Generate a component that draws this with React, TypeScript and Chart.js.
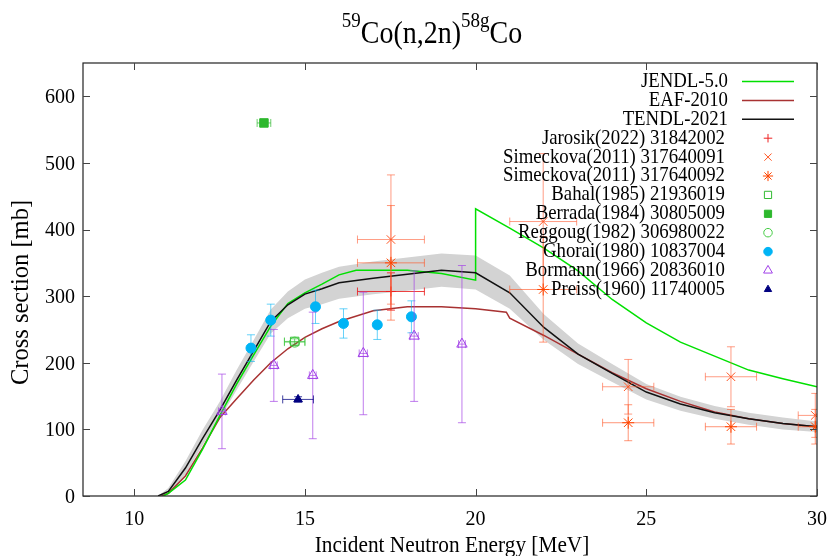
import React, { useEffect, useRef } from "react";
import { Chart, registerables } from "chart.js";
Chart.register(...registerables);

const FONT = '"Liberation Serif", "Times New Roman", Times, serif';
const SY = 1.1;

// ---------- axes ----------
const xTickValues = [10, 15, 20, 25, 30];
const yTickValues = [0, 100, 200, 300, 400, 500, 600];
const xMin = 8.5;
const xMax = 30;
const yMin = 0;
const yMax = 650;
const titleParts = [
  { t: "59", sup: true },
  { t: "Co(n,2n)", sup: false },
  { t: "58g", sup: true },
  { t: "Co", sup: false },
];
const xAxisTitle = "Incident Neutron Energy [MeV]";
const yAxisTitle = "Cross section [mb]";

// ---------- evaluated curves ----------
const tendlE = [10.7, 11.0, 11.5, 12.0, 12.5, 13.0, 13.5, 14.0, 14.5, 15.0, 15.5, 16.0, 17.0, 18.0, 19.0, 20.0, 21.0, 22.0, 23.0, 24.0, 25.0, 26.0, 27.0, 28.0, 29.0, 30.0];
const tendlXS = [0, 7, 42, 86, 128, 174, 218, 262, 287, 303, 311, 320, 327, 333, 339, 335, 305, 253, 213, 184, 156, 138, 125, 116, 109, 104];
const bandUpperXS = [0, 12, 52, 99, 141, 189, 234, 280, 307, 325, 335, 344, 352, 358, 364, 361, 331, 273, 229, 198, 168, 149, 135, 125, 118, 112];
const bandLowerXS = [0, 3, 32, 76, 115, 159, 202, 244, 267, 281, 288, 296, 303, 308, 314, 310, 281, 234, 198, 171, 145, 128, 116, 107, 100, 96];

const jendlE = [10.85, 11.0, 11.5, 12.0, 12.5, 13.0, 13.5, 14.0, 14.5, 15.0, 15.5, 16.0, 16.5, 17.0, 18.0, 19.0, 20.0, 20.0, 21.0, 22.0, 23.0, 24.0, 25.0, 26.0, 27.0, 28.0, 29.0, 30.0];
const jendlXS = [0, 4, 24, 70, 120, 168, 212, 255, 289, 305, 318, 332, 339, 339, 339, 334, 324, 431, 402, 372, 338, 295, 260, 231, 210, 189, 176, 164];

const eafE = [10.8, 11.0, 11.5, 12.0, 12.5, 13.0, 13.5, 14.0, 14.5, 15.0, 15.5, 16.0, 17.0, 18.0, 19.0, 20.0, 20.9, 21.0, 22.0, 23.0, 24.0, 25.0, 26.0, 27.0, 28.0, 29.0, 30.0];
const eafXS = [0, 4, 30, 72, 117, 146, 174, 200, 221, 238, 251, 262, 278, 284, 284, 281, 276, 267, 241, 213, 185, 161, 142, 126, 116, 109, 104];

// ---------- experimental data ----------
const jarosikE = [17.52];
const jarosikXS = [307];
const jarosikDE = [0.98];
const jarosikDXS = [28];

const sim1E = [17.52, 21.98, 24.47, 27.48, 29.95];
const sim1XS = [385, 412, 164, 179, 121];
const sim1DE = [0.98, 0.98, 0.75, 0.75, 0.5];
const sim1DXS = [97, 102, 41, 45, 33];

const sim2E = [17.52, 21.98, 24.47, 27.48, 29.95];
const sim2XS = [350, 310, 110, 104, 104];
const sim2DE = [0.98, 0.98, 0.75, 0.75, 0.5];
const sim2DXS = [86, 79, 27, 26, 26];

const bahalE = [14.7];
const bahalXS = [232];
const bahalDE = [0.3];
const bahalDXS = [4];

const berradaE = [13.8];
const berradaXS = [560];
const berradaDE = [0.2];
const berradaDXS = [3];

const reggougE = [14.7];
const reggougXS = [231];
const reggougDE = [0.3];
const reggougDXS = [0];

const ghoraiE = [13.42, 14.0, 15.31, 16.13, 17.12, 18.12];
const ghoraiXS = [222, 264, 284, 259, 257, 269];
const ghoraiDE = [0, 0, 0, 0, 0, 0];
const ghoraiDXS = [20, 24, 25, 22, 22, 24];

const bormannE = [12.57, 14.09, 15.23, 16.71, 18.2, 19.6];
const bormannXS = [127, 196, 181, 214, 240, 228];
const bormannDE = [0.1, 0.1, 0.1, 0.12, 0.12, 0.1];
const bormannDXS = [56, 54, 95, 92, 98, 118];

const preissE = [14.8];
const preissXS = [145];
const preissDE = [0.45];
const preissDXS = [4];

const toPts = (xs: number[], ys: number[]) => xs.map((x, i) => ({ x, y: ys[i] }));

type Exp = {
  label: string;
  E: number[];
  XS: number[];
  dE: number[];
  dXS: number[];
  style: string;
  r: number;
  stroke: string;
  fill: string;
  bar: string;
};

const experiments: Exp[] = [
  { label: "Jarosik(2022) 31842002", E: jarosikE, XS: jarosikXS, dE: jarosikDE, dXS: jarosikDXS, style: "cross", r: 5, stroke: "#ee2222", fill: "#ee2222", bar: "rgba(235,30,30,0.85)" },
  { label: "Simeckova(2011) 317640091", E: sim1E, XS: sim1XS, dE: sim1DE, dXS: sim1DXS, style: "crossRot", r: 6, stroke: "#ff5522", fill: "#ff5522", bar: "rgba(255,90,50,0.6)" },
  { label: "Simeckova(2011) 317640092", E: sim2E, XS: sim2XS, dE: sim2DE, dXS: sim2DXS, style: "star", r: 6, stroke: "#ff4500", fill: "#ff4500", bar: "rgba(255,80,30,0.6)" },
  { label: "Bahal(1985) 21936019", E: bahalE, XS: bahalXS, dE: bahalDE, dXS: bahalDXS, style: "rect", r: 6, stroke: "#33bb33", fill: "rgba(0,0,0,0)", bar: "rgba(51,187,51,0.7)" },
  { label: "Berrada(1984) 30805009", E: berradaE, XS: berradaXS, dE: berradaDE, dXS: berradaDXS, style: "rect", r: 6, stroke: "#2db82d", fill: "#2db82d", bar: "rgba(45,184,45,0.7)" },
  { label: "Reggoug(1982) 306980022", E: reggougE, XS: reggougXS, dE: reggougDE, dXS: reggougDXS, style: "circle", r: 5, stroke: "#44cc44", fill: "rgba(0,0,0,0)", bar: "rgba(68,204,68,0.7)" },
  { label: "Ghorai(1980) 10837004", E: ghoraiE, XS: ghoraiXS, dE: ghoraiDE, dXS: ghoraiDXS, style: "circle", r: 5, stroke: "#00b4f5", fill: "#00b4f5", bar: "rgba(0,180,245,0.6)" },
  { label: "Bormann(1966) 20836010", E: bormannE, XS: bormannXS, dE: bormannDE, dXS: bormannDXS, style: "triangle", r: 6, stroke: "#a040e8", fill: "rgba(0,0,0,0)", bar: "rgba(165,70,230,0.7)" },
  { label: "Preiss(1960) 11740005", E: preissE, XS: preissXS, dE: preissDE, dXS: preissDXS, style: "triangle", r: 5, stroke: "#000080", fill: "#000080", bar: "rgba(0,0,128,0.75)" },
];

const curves = [
  { label: "JENDL-5.0", color: "#00e000" },
  { label: "EAF-2010", color: "#a83232" },
  { label: "TENDL-2021", color: "#111111" },
];

function drawText(ctx: CanvasRenderingContext2D, text: string, x: number, y: number, size: number, align: CanvasTextAlign, baseline: CanvasTextBaseline = "middle", rot = 0) {
  ctx.save();
  ctx.translate(x, y);
  if (rot) {
    ctx.rotate(rot);
  } else {
    ctx.scale(1, SY);
  }
  ctx.font = `${size}px ${FONT}`;
  ctx.textAlign = align;
  ctx.textBaseline = baseline;
  ctx.fillStyle = "#000";
  ctx.fillText(text, 0, 0);
  ctx.restore();
}

function drawMarker(ctx: CanvasRenderingContext2D, style: string, x: number, y: number, r: number, stroke: string, fill: string) {
  ctx.save();
  ctx.strokeStyle = stroke;
  ctx.fillStyle = fill;
  ctx.lineWidth = 1;
  ctx.beginPath();
  const d = r * Math.SQRT1_2;
  if (style === "cross" || style === "star") {
    ctx.moveTo(x - r, y); ctx.lineTo(x + r, y);
    ctx.moveTo(x, y - r); ctx.lineTo(x, y + r);
  }
  if (style === "crossRot" || style === "star") {
    ctx.moveTo(x - d, y - d); ctx.lineTo(x + d, y + d);
    ctx.moveTo(x - d, y + d); ctx.lineTo(x + d, y - d);
  }
  if (style === "rect") {
    ctx.rect(x - d, y - d, 2 * d, 2 * d);
    ctx.fill();
  }
  if (style === "circle") {
    ctx.arc(x, y, r, 0, Math.PI * 2);
    ctx.fill();
  }
  if (style === "triangle") {
    ctx.moveTo(x, y - r);
    ctx.lineTo(x + 0.866 * r, y + 0.5 * r);
    ctx.lineTo(x - 0.866 * r, y + 0.5 * r);
    ctx.closePath();
    ctx.fill();
  }
  ctx.stroke();
  ctx.restore();
}

const errorBarPlugin = {
  id: "errbars",
  beforeDatasetDraw(chart: any, args: any) {
    const ds = chart.data.datasets[args.index];
    const ex = experiments.find((e) => e.label === ds.label);
    if (!ex) return;
    const { ctx, chartArea: ca } = chart;
    const xs = chart.scales.x;
    const ys = chart.scales.y;
    ctx.save();
    ctx.beginPath();
    ctx.rect(ca.left, ca.top, ca.right - ca.left, ca.bottom - ca.top);
    ctx.clip();
    ctx.strokeStyle = ex.bar;
    ctx.lineWidth = 1;
    const cap = 4;
    ex.E.forEach((e, i) => {
      const px = xs.getPixelForValue(e);
      const py = ys.getPixelForValue(ex.XS[i]);
      ctx.beginPath();
      if (ex.dE[i] > 0) {
        const x1 = xs.getPixelForValue(e - ex.dE[i]);
        const x2 = xs.getPixelForValue(e + ex.dE[i]);
        ctx.moveTo(x1, py); ctx.lineTo(x2, py);
        ctx.moveTo(x1, py - cap); ctx.lineTo(x1, py + cap);
        ctx.moveTo(x2, py - cap); ctx.lineTo(x2, py + cap);
      }
      if (ex.dXS[i] > 0) {
        const y1 = ys.getPixelForValue(ex.XS[i] - ex.dXS[i]);
        const y2 = ys.getPixelForValue(ex.XS[i] + ex.dXS[i]);
        ctx.moveTo(px, y1); ctx.lineTo(px, y2);
        ctx.moveTo(px - cap, y1); ctx.lineTo(px + cap, y1);
        ctx.moveTo(px - cap, y2); ctx.lineTo(px + cap, y2);
      }
      ctx.stroke();
    });
    ctx.restore();
  },
};

const decorPlugin = {
  id: "decor",
  afterDraw(chart: any) {
    const { ctx, chartArea: ca } = chart;
    const xs = chart.scales.x;
    const ys = chart.scales.y;
    // frame
    ctx.save();
    ctx.strokeStyle = "#222";
    ctx.lineWidth = 1.2;
    ctx.strokeRect(ca.left, ca.top, ca.right - ca.left, ca.bottom - ca.top);
    // inward ticks
    ctx.strokeStyle = "#444";
    ctx.lineWidth = 1;
    ctx.beginPath();
    const tl = 7;
    yTickValues.forEach((v) => {
      const y = Math.round(ys.getPixelForValue(v)) + 0.5;
      ctx.moveTo(ca.left, y); ctx.lineTo(ca.left + tl, y);
      ctx.moveTo(ca.right, y); ctx.lineTo(ca.right - tl, y);
    });
    xTickValues.forEach((v) => {
      const x = Math.round(xs.getPixelForValue(v)) + 0.5;
      ctx.moveTo(x, ca.bottom); ctx.lineTo(x, ca.bottom - tl);
      ctx.moveTo(x, ca.top); ctx.lineTo(x, ca.top + tl);
    });
    ctx.stroke();
    ctx.restore();

    // tick labels
    yTickValues.forEach((v) => {
      drawText(ctx, String(v), ca.left - 8, ys.getPixelForValue(v) + 1, 20, "right");
    });
    xTickValues.forEach((v) => {
      drawText(ctx, String(v), xs.getPixelForValue(v), ca.bottom + 23, 20, "center");
    });

    // axis titles
    drawText(ctx, xAxisTitle, (ca.left + ca.right) / 2 + 2, 546, 21.3, "center");
    drawText(ctx, yAxisTitle, 22, (ca.top + ca.bottom) / 2 + 13, 24.5, "center", "middle", -Math.PI / 2);

    // title with superscripts
    ctx.save();
    const mainSize = 28;
    const supSize = 19;
    let total = 0;
    const widths = titleParts.map((p) => {
      ctx.font = `${p.sup ? supSize : mainSize}px ${FONT}`;
      const w = ctx.measureText(p.t).width;
      total += w;
      return w;
    });
    let x = 432 - total / 2;
    titleParts.forEach((p, i) => {
      drawText(ctx, p.t, x, p.sup ? 27 : 43, p.sup ? supSize : mainSize, "left", "alphabetic");
      x += widths[i];
    });
    ctx.restore();

    // legend
    const rowY = (i: number) => 81.5 + i * 18.9;
    curves.forEach((c, i) => {
      const y = rowY(i);
      drawText(ctx, c.label, 728, y, 18.8, "right");
      ctx.save();
      ctx.strokeStyle = c.color;
      ctx.lineWidth = 1.5;
      ctx.beginPath();
      ctx.moveTo(742, y); ctx.lineTo(794, y);
      ctx.stroke();
      ctx.restore();
    });
    experiments.forEach((e, j) => {
      const y = rowY(j + 3);
      drawText(ctx, e.label, 725, y, 18.8, "right");
      drawMarker(ctx, e.style, 768, y, e.r * 0.85, e.stroke, e.fill);
    });
  },
};

export default function App() {
  const ref = useRef<HTMLCanvasElement | null>(null);
  useEffect(() => {
    if (!ref.current) return;
    const lineDs = (label: string, E: number[], XS: number[], color: string, order: number, width = 1.5) => ({
      type: "line" as const,
      label,
      data: toPts(E, XS),
      borderColor: color,
      backgroundColor: color,
      borderWidth: width,
      pointRadius: 0,
      showLine: true,
      tension: 0,
      fill: false,
      order,
    });
    const datasets: any[] = [
      {
        type: "line",
        label: "band-upper",
        data: toPts(tendlE, bandUpperXS),
        borderColor: "rgba(0,0,0,0)",
        borderWidth: 0,
        pointRadius: 0,
        showLine: true,
        fill: false,
        order: 20,
      },
      {
        type: "line",
        label: "band-lower",
        data: toPts(tendlE, bandLowerXS),
        borderColor: "rgba(0,0,0,0)",
        backgroundColor: "#d3d3d3",
        borderWidth: 0,
        pointRadius: 0,
        showLine: true,
        fill: { target: 0 },
        order: 19,
      },
      lineDs("EAF-2010", eafE, eafXS, curves[1].color, 18),
      lineDs("JENDL-5.0", jendlE, jendlXS, curves[0].color, 17),
      lineDs("TENDL-2021", tendlE, tendlXS, curves[2].color, 16),
      ...experiments.map((e, i) => ({
        type: "scatter",
        label: e.label,
        data: toPts(e.E, e.XS),
        pointStyle: e.style,
        pointRadius: e.r,
        pointBorderColor: e.stroke,
        pointBackgroundColor: e.fill,
        pointBorderWidth: 1,
        showLine: false,
        order: 10 - i,
      })),
    ];
    const chart = new Chart(ref.current, {
      type: "scatter",
      data: { datasets },
      options: {
        animation: false,
        responsive: false,
        devicePixelRatio: 1,
        events: [],
        layout: { padding: { left: 0, right: 12, top: 63, bottom: 0 } },
        plugins: { legend: { display: false }, tooltip: { enabled: false }, title: { display: false } },
        scales: {
          x: {
            type: "linear",
            min: xMin,
            max: xMax,
            grid: { display: false, drawTicks: false },
            border: { display: false },
            ticks: { display: false },
            afterBuildTicks: (s: any) => {
              s.ticks = xTickValues.map((v) => ({ value: v }));
            },
            afterFit: (s: any) => {
              s.height = 60;
            },
          },
          y: {
            type: "linear",
            min: yMin,
            max: yMax,
            grid: { display: false, drawTicks: false },
            border: { display: false },
            ticks: { display: false },
            afterBuildTicks: (s: any) => {
              s.ticks = yTickValues.map((v) => ({ value: v }));
            },
            afterFit: (s: any) => {
              s.width = 83;
            },
          },
        },
      } as any,
      plugins: [errorBarPlugin, decorPlugin],
    });
    return () => chart.destroy();
  }, []);
  return (
    <div style={{ position: "absolute", left: 0, top: 0, width: 829, height: 556, background: "#fff" }}>
      <canvas ref={ref} width={829} height={556} style={{ display: "block", width: 829, height: 556 }} />
    </div>
  );
}
